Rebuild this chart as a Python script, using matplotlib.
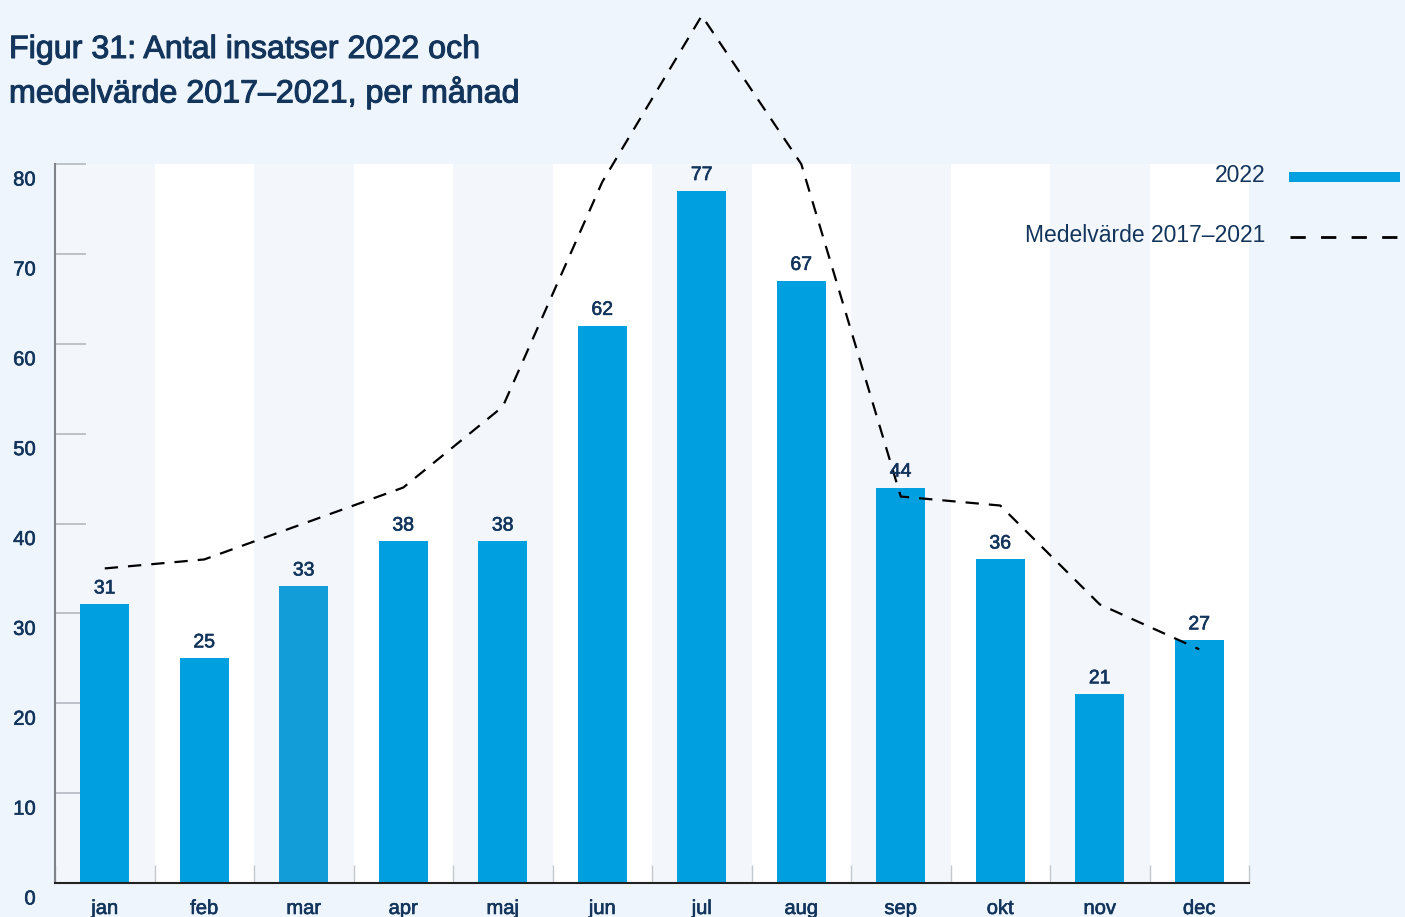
import matplotlib.pyplot as plt
import matplotlib.transforms as mtransforms
import matplotlib.patheffects as pe
from matplotlib.lines import Line2D
from matplotlib.patches import Rectangle
import numpy as np

plt.rcParams['font.family'] = ['Liberation Sans', 'DejaVu Sans']

# data
months = ['jan', 'feb', 'mar', 'apr', 'maj', 'jun', 'jul', 'aug', 'sep', 'okt', 'nov', 'dec']
insatser_2022 = [31, 25, 33, 38, 38, 62, 77, 67, 44, 36, 21, 27]
medel_2017_2021 = [35, 36, 40, 44, 53, 78, 96.5, 80, 43, 42, 31, 26]
yticks = [0, 10, 20, 30, 40, 50, 60, 70, 80]

navy = '#13355c'
blue = '#009fe0'
bar_colors = [blue] * len(months)
bar_colors[2] = '#129dd8'  # mars ser lite annorlunda ut i originalet

# a thin stroke makes Liberation Sans look like the medium weight of the original
heavy = [pe.withStroke(linewidth=0.75, foreground=navy)]
semi = [pe.withStroke(linewidth=0.45, foreground=navy)]

fig = plt.figure(figsize=(14.05, 9.17), dpi=100)
fig.patch.set_facecolor('#eef5fc')

W, H = 1405, 917
ax = fig.add_axes([55 / W, 1 - 883 / H, 1194 / W, (883 - 164) / H])
ax.set_facecolor('#f3f7fc')

x = np.arange(len(months))
# alternating column bands
for i in x:
    if i % 2 == 1:
        ax.axvspan(i - 0.5, i + 0.5, color='white', zorder=0, lw=0)

ax.bar(x, insatser_2022, width=0.49, color=bar_colors, zorder=2)
for xi, v in zip(x, insatser_2022):
    ax.annotate(str(v), (xi, v), xytext=(0, 5), textcoords='offset points',
                ha='center', va='bottom', fontsize=14, color=navy, zorder=4,
                path_effects=semi)

ax.plot(x, medel_2017_2021, color='black', lw=1.6, dashes=(6, 4.5),
        clip_on=False, zorder=3)

ax.set_xlim(-0.5, 11.5)
ax.set_ylim(0, 80)
ax.set_yticks(yticks)
ax.set_xticks(x)
ax.set_xticklabels(months)
ax.set_xticks(np.arange(-0.5, 12, 1), minor=True)

ax.tick_params(axis='y', direction='in', length=22, width=1.2, color='#b5b9bf',
               labelsize=14.5, labelcolor=navy, pad=14)
ax.tick_params(axis='x', which='major', length=0, labelsize=14.5,
               labelcolor=navy, pad=11.5)
ax.tick_params(axis='x', which='minor', direction='in', length=13, width=1,
               color='#c3c7ce')

# y labels sit a bit below their tick in the original
offset = mtransforms.ScaledTranslation(0, -14 / 100, fig.dpi_scale_trans)
for lab in ax.get_yticklabels():
    lab.set_transform(lab.get_transform() + offset)
    lab.set_path_effects(semi)
for lab in ax.get_xticklabels():
    lab.set_path_effects(semi)

for s in ['top', 'right']:
    ax.spines[s].set_visible(False)
ax.spines['left'].set_color('#80848a')
ax.spines['left'].set_linewidth(1.5)
ax.spines['bottom'].set_color('#222222')
ax.spines['bottom'].set_linewidth(1.5)

# title
fig.text(9 / W, 1 - 50 / H, 'Figur 31: Antal insatser 2022 och',
         fontsize=23.2, color=navy, ha='left', va='center', path_effects=heavy)
fig.text(9 / W, 1 - 93 / H, 'medelvärde 2017–2021, per månad',
         fontsize=23.2, color=navy, ha='left', va='center', path_effects=heavy)

# legend drawn by hand at the right
fig.text(1265 / W, 1 - 176 / H, '2022', fontsize=16.5, color=navy,
         ha='right', va='center')
fig.add_artist(Rectangle((1289 / W, 1 - 182 / H), 111 / W, 10 / H,
                         transform=fig.transFigure, color=blue, lw=0))
fig.text(1265 / W, 1 - 235 / H, 'Medelvärde 2017–2021', fontsize=16.5,
         color=navy, ha='right', va='center')
fig.add_artist(Line2D([1290 / W, 1400 / W], [1 - 237 / H, 1 - 237 / H],
                      transform=fig.transFigure, color='black', lw=2,
                      dashes=(5.5, 5.5)))

fig.savefig('out.png', dpi=100, facecolor=fig.get_facecolor())
